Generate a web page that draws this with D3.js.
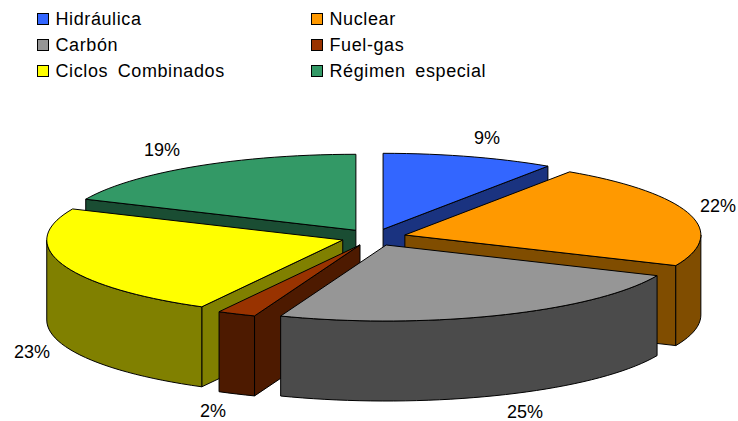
<!DOCTYPE html>
<html>
<head>
<meta charset="utf-8">
<script src="https://cdn.jsdelivr.net/npm/d3@7"></script>
<style>
  html, body { margin: 0; background: #fff; }
  text { font-family: "Liberation Sans", Arial, sans-serif; font-size: 18px; fill: #000; }
</style>
</head>
<body>
<div id="plot"></div>
<script>
const categories = ["Hidráulica", "Nuclear", "Carbón", "Fuel-gas", "Ciclos Combinados", "Régimen especial"];
// slice sizes, the printed labels are kept apart
const shares = [9.4, 22.2, 24.2, 2.1, 23.8, 18.3];
const pctLabels = ["9%", "22%", "25%", "2%", "23%", "19%"];
const topColours = ["#3366FF", "#FF9900", "#969696", "#993300", "#FFFF00", "#339966"];
const wallColours = ["#1A3380", "#804D00", "#4B4B4B", "#4D1A00", "#808000", "#1A4D33"];

// back slices first so the front ones cover them
const drawOrder = [5, 0, 4, 1, 3, 2];

const width = 738;
const height = 421;
const depth = 80;
const explode = 0.11;

const svg = d3.select("#plot")
  .append("svg")
  .attr("width", width)
  .attr("height", height)
  .style("display", "block");

const x = d3.scaleLinear().domain([-1, 1]).range([77.6, 669.6]);
const y = d3.scaleLinear().domain([-1, 1]).range([161.3, 313.3]);

const line = d3.line().x(d => x(d[0])).y(d => y(d[1]));

const arcs = d3.pie().sort(null).value(d => d)(shares);

// point on the rim of a slice, pushed out along its middle angle
function rim(arc, angle, r) {
  const mid = (arc.startAngle + arc.endAngle) / 2;
  return [
    explode * Math.sin(mid) + r * Math.sin(angle),
    -explode * Math.cos(mid) - r * Math.cos(angle)
  ];
}

function arcPoints(arc, a0, a1) {
  const steps = Math.max(2, Math.ceil((a1 - a0) / 0.04));
  return d3.range(steps + 1).map(i => rim(arc, a0 + (a1 - a0) * i / steps, 1));
}

// a top-surface outline dropped down by the slice thickness
function wallPath(points) {
  const top = line(points);
  const bottom = points.slice().reverse().map(p => [x(p[0]), y(p[1]) + depth]);
  return top + "L" + bottom.map(p => p.join(",")).join("L") + "Z";
}

const slices = svg.selectAll("g.slice")
  .data(drawOrder)
  .enter()
  .append("g")
  .attr("class", "slice")
  .attr("stroke", "#000")
  .attr("stroke-width", 1)
  .attr("stroke-linejoin", "round");

slices.each(function (i) {
  const g = d3.select(this);
  const arc = arcs[i];
  const apex = rim(arc, 0, 0);

  // radial walls, only the ones facing the viewer
  if (Math.sin(arc.startAngle) < -1e-6) {
    g.append("path")
      .attr("d", wallPath([apex, rim(arc, arc.startAngle, 1)]))
      .attr("fill", wallColours[i]);
  }
  if (Math.sin(arc.endAngle) > 1e-6) {
    g.append("path")
      .attr("d", wallPath([apex, rim(arc, arc.endAngle, 1)]))
      .attr("fill", wallColours[i]);
  }

  // outer wall on the front half of the rim
  const a0 = Math.max(arc.startAngle, Math.PI / 2);
  const a1 = Math.min(arc.endAngle, Math.PI * 1.5);
  if (a1 > a0) {
    g.append("path")
      .attr("d", wallPath(arcPoints(arc, a0, a1)))
      .attr("fill", wallColours[i]);
  }

  // top surface
  g.append("path")
    .attr("d", line([apex, ...arcPoints(arc, arc.startAngle, arc.endAngle)]) + "Z")
    .attr("fill", topColours[i]);
});

// percentage labels
const labelX = [487, 718, 525, 213, 32, 162];
const labelY = [144, 212, 418, 417, 358, 156];

svg.selectAll("text.pct")
  .data(pctLabels)
  .enter()
  .append("text")
  .attr("class", "pct")
  .attr("text-anchor", "middle")
  .attr("x", (d, i) => labelX[i])
  .attr("y", (d, i) => labelY[i])
  .text(d => d);

// legend, filled column by column across three rows
const legendX = d3.scaleOrdinal().domain([0, 1]).range([37, 311]);
const legendY = d3.scaleOrdinal().domain([0, 1, 2]).range([13, 39, 65]);

const legend = svg.selectAll("g.legend")
  .data(categories)
  .enter()
  .append("g")
  .attr("class", "legend")
  .attr("transform", (d, i) => `translate(${legendX(i % 2)},${legendY(Math.floor(i / 2))})`);

legend.append("rect")
  .attr("x", 0.5)
  .attr("y", 0.5)
  .attr("width", 11)
  .attr("height", 11)
  .attr("fill", (d, i) => topColours[i])
  .attr("stroke", "#000");

legend.append("text")
  .attr("x", 18.5)
  .attr("y", 12)
  .style("letter-spacing", "0.6px")
  .style("word-spacing", "4px")
  .text(d => d);
</script>
</body>
</html>
